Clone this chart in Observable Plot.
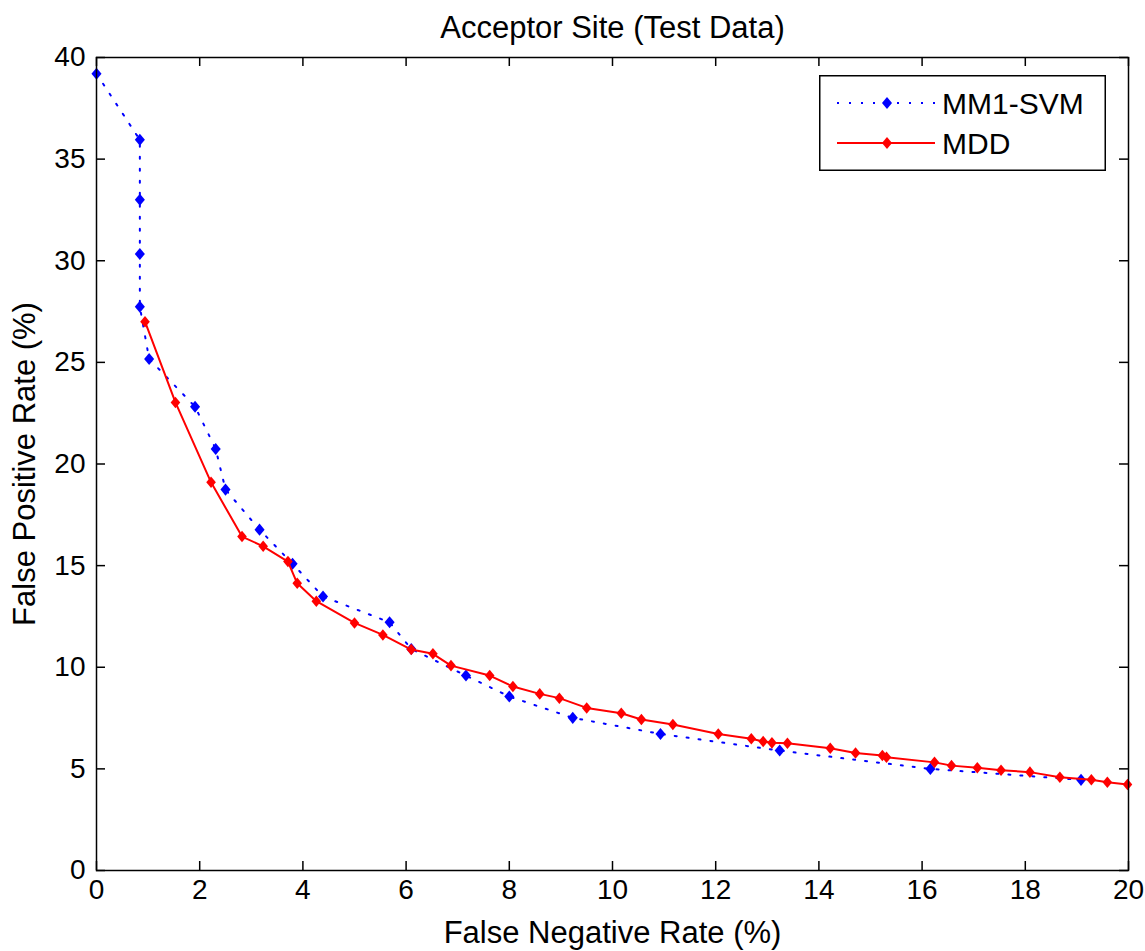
<!DOCTYPE html>
<html><head><meta charset="utf-8">
<script src="https://cdn.jsdelivr.net/npm/d3@7"></script>
<script src="https://cdn.jsdelivr.net/npm/@observablehq/plot@0.6"></script>
<style>
body{margin:0;background:#fff;}
#wrap{position:relative;width:1145px;height:951px;font-family:"Liberation Sans",Arial,sans-serif;}
#legend{position:absolute;left:819px;top:75px;}
</style></head><body><div id="wrap"></div>
<script>
const titleText = "Acceptor Site (Test Data)";
const xLabel = "False Negative Rate (%)";
const yLabel = "False Positive Rate (%)";
const xTicks = [0, 2, 4, 6, 8, 10, 12, 14, 16, 18, 20];
const yTicks = [0, 5, 10, 15, 20, 25, 30, 35, 40];
const seriesNames = ["MM1-SVM", "MDD"];
const seriesColors = ["#0000ff", "#ff0000"];

const svmFNR = [0, 0.84, 0.84, 0.84, 0.84, 1.02, 1.91, 2.31, 2.50, 3.16, 3.80, 4.39, 5.68, 6.10, 7.16, 8.00, 9.23, 10.93, 13.24, 16.16, 19.08];
const svmFPR = [39.2, 35.95, 33.0, 30.33, 27.74, 25.17, 22.82, 20.74, 18.74, 16.77, 15.09, 13.48, 12.21, 10.9, 9.59, 8.56, 7.51, 6.72, 5.90, 5.0, 4.46];

const mddFNR = [0.94, 1.53, 2.22, 2.82, 3.23, 3.71, 3.89, 4.26, 5.00, 5.55, 6.10, 6.52, 6.87, 7.62, 8.07, 8.59, 8.97, 9.50, 10.17, 10.56, 11.17, 12.05, 12.69, 12.92, 13.09, 13.39, 14.22, 14.71, 15.23, 15.31, 16.24, 16.57, 17.07, 17.53, 18.09, 18.67, 19.28, 19.59, 19.98];
const mddFPR = [27.0, 23.03, 19.1, 16.43, 15.95, 15.2, 14.13, 13.25, 12.18, 11.59, 10.87, 10.66, 10.08, 9.59, 9.05, 8.69, 8.48, 8.0, 7.74, 7.43, 7.18, 6.72, 6.48, 6.35, 6.28, 6.26, 6.02, 5.78, 5.66, 5.57, 5.32, 5.16, 5.05, 4.93, 4.84, 4.59, 4.46, 4.34, 4.23];

const svm = svmFNR.map((x, i) => ({x, y: svmFPR[i]}));
const mdd = mddFNR.map((x, i) => ({x, y: mddFPR[i]}));

const W = 1145, H = 951, mL = 96, mR = 17, mT = 57, mB = 81;
const innerW = W - mL - mR, innerH = H - mT - mB, tk = 9;
const font = "'Liberation Sans', Arial, sans-serif";

// compact diamond, slightly taller than wide
const markerSymbol = {
  draw(context, size) {
    const hw = Math.sqrt(size / 2.4), hh = hw * 1.2;
    context.moveTo(0, -hh); context.lineTo(hw, 0); context.lineTo(0, hh); context.lineTo(-hw, 0); context.closePath();
  }
};

const chart = Plot.plot({
  width: W, height: H,
  marginLeft: mL, marginRight: mR, marginTop: mT, marginBottom: mB,
  style: {fontFamily: font, fontSize: "28px", background: "#fff", color: "#000", overflow: "visible"},
  x: {domain: [0, 20], ticks: xTicks, tickSize: 0, tickPadding: 9, label: null, tickFormat: d => String(d)},
  y: {domain: [0, 40], ticks: yTicks, tickSize: 0, tickPadding: 11, label: null, tickFormat: d => String(d)},
  marks: [
    Plot.ruleX(xTicks, {x: d => d, insetTop: innerH - tk, stroke: "#000", strokeWidth: 1.5}),
    Plot.ruleX(xTicks, {x: d => d, insetBottom: innerH - tk, stroke: "#000", strokeWidth: 1.5}),
    Plot.ruleY(yTicks, {y: d => d, insetRight: innerW - tk, stroke: "#000", strokeWidth: 1.5}),
    Plot.ruleY(yTicks, {y: d => d, insetLeft: innerW - tk, stroke: "#000", strokeWidth: 1.5}),
    Plot.line(svm, {x: "x", y: "y", stroke: seriesColors[0], strokeWidth: 2, strokeDasharray: "2,10"}),
    Plot.dot(svm, {x: "x", y: "y", symbol: markerSymbol, r: 4.4, fill: seriesColors[0], stroke: "none"}),
    Plot.line(mdd, {x: "x", y: "y", stroke: seriesColors[1], strokeWidth: 2}),
    Plot.dot(mdd, {x: "x", y: "y", symbol: markerSymbol, r: 4.2, fill: seriesColors[1], stroke: "none"}),
    Plot.frame({stroke: "#000", strokeWidth: 1.5}),
    Plot.text([titleText], {text: d => d, frameAnchor: "top", lineAnchor: "middle", dy: -29, fontSize: 31, fill: "#000"}),
    Plot.text([xLabel], {text: d => d, frameAnchor: "bottom", lineAnchor: "middle", dy: 63, fontSize: 31, fill: "#000"}),
    Plot.text([yLabel], {text: d => d, frameAnchor: "left", textAnchor: "middle", lineAnchor: "middle", dx: -71, rotate: -90, fontSize: 31, fill: "#000"})
  ]
});
document.getElementById("wrap").appendChild(chart);

// Legend
const lw = 287, lh = 96;
const leg = d3.select("#wrap").append("div").attr("id", "legend")
  .append("svg").attr("width", lw).attr("height", lh).style("display", "block");
leg.append("rect").attr("x", 0.75).attr("y", 0.75).attr("width", lw - 1.5).attr("height", lh - 1.5)
  .attr("fill", "#fff").attr("stroke", "#000").attr("stroke-width", 1.5);
const diamond = d3.symbol(markerSymbol, Math.PI * 4.4 * 4.4)();
seriesNames.forEach((name, i) => {
  const cy = 28 + i * 40;
  const g = leg.append("g");
  g.append("line").attr("x1", 18).attr("x2", 116).attr("y1", cy).attr("y2", cy)
    .attr("stroke", seriesColors[i]).attr("stroke-width", 2)
    .attr("stroke-dasharray", i === 0 ? "2,10" : null);
  g.append("path").attr("d", diamond).attr("transform", `translate(68,${cy})`).attr("fill", seriesColors[i]);
  g.append("text").attr("x", 123).attr("y", cy).attr("dy", "0.36em")
    .attr("font-family", font).attr("font-size", 30).attr("fill", "#000").text(name);
});
</script></body></html>
